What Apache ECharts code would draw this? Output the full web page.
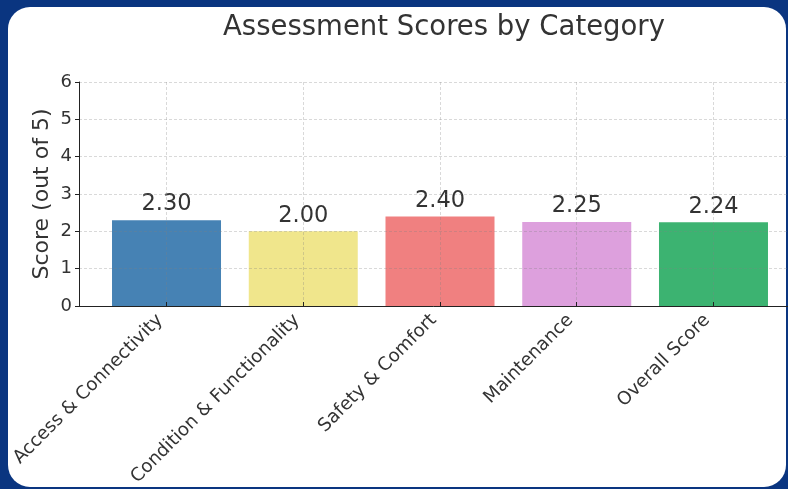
<!DOCTYPE html>
<html>
<head>
<meta charset="utf-8">
<script src="https://cdn.jsdelivr.net/npm/echarts@6/dist/echarts.min.js"></script>
<style>
  html, body { margin: 0; padding: 0; width: 788px; height: 489px; overflow: hidden; background: #0a3580; }
  #card { position: absolute; left: 8px; top: 7px; width: 778px; height: 480px; background: #fff; border-radius: 22px; }
  #main { position: absolute; left: 0; top: 0; width: 788px; height: 489px; }
</style>
</head>
<body>
<div id="card"></div>
<div id="main"></div>
<script>
// 数据
let categories = ['Access & Connectivity', 'Condition & Functionality', 'Safety & Comfort', 'Maintenance', 'Overall Score'];
let scores = [2.30, 2.00, 2.40, 2.25, 2.24];
let yTicks = [0, 1, 2, 3, 4, 5, 6];
let barColors = ['#4682b4', '#f0e68c', '#f08080', '#dda0dd', '#3cb371'];

let positions = categories.map(function (c, i) { return i; });
let barData = scores.map(function (v, i) { return [i, v]; });

let textColor = '#333';
// 网格线（半透明，压在柱子上面）
let gridLine = { show: true, lineStyle: { color: 'rgba(128,128,128,0.3)', type: [3, 2], width: 1 } };

let myChart = echarts.init(document.getElementById('main'), null, { renderer: 'canvas' });
let option = {
    backgroundColor: 'transparent',
    animation: false,
    textStyle: { fontFamily: 'DejaVu Sans' },
    title: {
        text: 'Assessment Scores by Category',
        left: 439,
        top: 9,
        textAlign: 'center',
        textStyle: { fontSize: 27.5, fontWeight: 'normal', color: textColor, fontFamily: 'DejaVu Sans' }
    },
    grid: { left: 79, top: 82, width: 722, height: 224, outerBoundsMode: 'none', containLabel: false },
    xAxis: {
        type: 'value',
        min: -0.64,
        max: 4.64,
        z: 5,
        axisLine: { show: true, onZero: false, lineStyle: { color: '#222', width: 1 } },
        axisTick: { show: true, inside: true, length: 4, customValues: positions, lineStyle: { color: '#222' } },
        axisLabel: {
            show: true,
            customValues: positions,
            rotate: 45,
            margin: 5,
            padding: [0, 9, 0, 0],
            fontSize: 18.3,
            color: textColor,
            formatter: function (v) { return categories[Math.round(v)]; }
        },
        splitLine: gridLine
    },
    yAxis: {
        type: 'value',
        min: yTicks[0],
        max: yTicks[yTicks.length - 1],
        interval: 1,
        z: 5,
        name: 'Score (out of 5)',
        nameLocation: 'middle',
        nameGap: 26,
        nameMoveOverlap: false,
        nameTextStyle: { fontSize: 22, color: textColor },
        axisLine: { show: true, onZero: false, lineStyle: { color: '#222', width: 1 } },
        axisTick: { show: true, length: 4, lineStyle: { color: '#222' } },
        axisLabel: { fontSize: 18, color: textColor, margin: 7 },
        splitLine: gridLine
    },
    series: [
        {
            type: 'bar',
            data: barData,
            barWidth: 109,
            z: 2,
            itemStyle: {
                color: function (p) { return barColors[p.dataIndex]; }
            },
            label: {
                show: true,
                position: 'top',
                distance: 4,
                fontSize: 22.5,
                color: textColor,
                formatter: function (p) { return p.value[1].toFixed(2); }
            }
        }
    ]
};
myChart.setOption(option);
</script>
</body>
</html>
